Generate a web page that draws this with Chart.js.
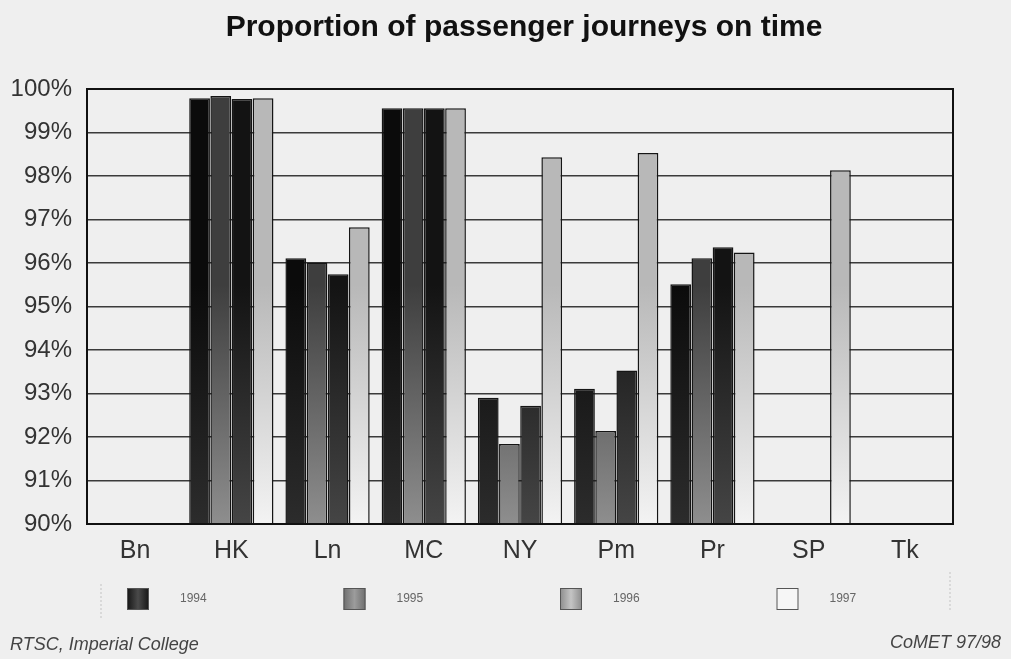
<!DOCTYPE html>
<html>
<head>
<meta charset="utf-8">
<title>Proportion of passenger journeys on time</title>
<script src="https://cdn.jsdelivr.net/npm/chart.js@4/dist/chart.umd.min.js"></script>
<style>
  html, body { margin: 0; padding: 0; background: #efefef; }
  canvas { display: block; }
</style>
</head>
<body>
<canvas id="chart" width="1011" height="659"></canvas>
<script>
// Metro systems and the share of journeys that ran on time (%), per year
const cities = ['Bn', 'HK', 'Ln', 'MC', 'NY', 'Pm', 'Pr', 'SP', 'Tk'];
const years = ['1994', '1995', '1996', '1997'];
const onTime1994 = [null, 99.79, 96.11, 99.56, 92.90, 93.11, 95.51, null, null];
const onTime1995 = [null, 99.84, 96.01, 99.56, 91.84, 92.14, 96.11, null, null];
const onTime1996 = [null, 99.77, 95.74, 99.56, 92.72, 93.53, 96.36, null, null];
const onTime1997 = [null, 99.79, 96.82, 99.56, 98.43, 98.53, 96.24, 98.13, null];
const axisMin = 90;
const axisMax = 100;
const footerLeft = 'RTSC, Imperial College';
const footerRight = 'CoMET 97/98';

// Fill shades for each year: [top of plot, bottom of plot]
const barShades = [
  ['#0b0b0b', '#2c2c2c'],
  ['#3e3e3e', '#8e8e8e'],
  ['#131313', '#454545'],
  ['#b8b8b8', '#f3f3f3']
];
// Legend swatch fills: [edge, centre]
const swatchShades = [
  ['#151515', '#4a4a4a'],
  ['#6e6e6e', '#9c9c9c'],
  ['#8c8c8c', '#c4c4c4'],
  ['#f6f6f6', '#f6f6f6']
];

function shadeFor(i) {
  return (context) => {
    const area = context.chart.chartArea;
    if (!area) return barShades[i][0];
    const g = context.chart.ctx.createLinearGradient(0, area.top, 0, area.bottom);
    g.addColorStop(0, barShades[i][0]);
    g.addColorStop(0.45, barShades[i][0]);
    g.addColorStop(1, barShades[i][1]);
    return g;
  };
}

const seriesValues = [onTime1994, onTime1995, onTime1996, onTime1997];

const paperBackground = {
  id: 'paperBackground',
  beforeDraw(chart) {
    const { ctx, width, height } = chart;
    ctx.save();
    ctx.fillStyle = '#efefef';
    ctx.fillRect(0, 0, width, height);
    ctx.restore();
  }
};

// centre the heading over the page body rather than the full canvas
const headingOffset = {
  id: 'headingOffset',
  afterLayout(chart) {
    if (chart.titleBlock) chart.titleBlock.left += 37;
  }
};

const plotFrame = {
  id: 'plotFrame',
  afterDatasetsDraw(chart) {
    const { ctx, chartArea: a } = chart;
    ctx.save();
    ctx.strokeStyle = '#111';
    ctx.lineWidth = 2;
    ctx.strokeRect(a.left, a.top, a.right - a.left, a.bottom - a.top);
    ctx.restore();
  }
};

const yearKey = {
  id: 'yearKey',
  afterDraw(chart) {
    const { ctx, chartArea: a } = chart;
    const step = (a.right - a.left) / years.length;
    const boxW = 22, boxH = 22, boxTop = 588;
    ctx.save();
    // faint side rules of the key panel
    ctx.strokeStyle = 'rgba(0,0,0,0.18)';
    ctx.lineWidth = 1;
    ctx.setLineDash([2, 2]);
    ctx.beginPath();
    ctx.moveTo(a.left + 14, 584); ctx.lineTo(a.left + 14, 618);
    ctx.moveTo(a.right - 3, 572); ctx.lineTo(a.right - 3, 612);
    ctx.stroke();
    ctx.setLineDash([]);

    chart.data.datasets.forEach((ds, i) => {
      const x = a.left + 40 + i * step;
      const g = ctx.createLinearGradient(x, 0, x + boxW, 0);
      g.addColorStop(0, swatchShades[i][0]);
      g.addColorStop(0.5, swatchShades[i][1]);
      g.addColorStop(1, swatchShades[i][0]);
      ctx.fillStyle = g;
      ctx.fillRect(x, boxTop, boxW, boxH);
      ctx.strokeStyle = '#555';
      ctx.lineWidth = 1;
      ctx.strokeRect(x + 0.5, boxTop + 0.5, boxW - 1, boxH - 1);
      ctx.fillStyle = '#666';
      ctx.font = '12px "Liberation Sans", Arial, sans-serif';
      ctx.textAlign = 'left';
      ctx.textBaseline = 'middle';
      ctx.fillText(ds.label, x + 53, boxTop + boxH / 2);
    });

    ctx.fillStyle = '#444';
    ctx.font = 'italic 18px "Liberation Sans", Arial, sans-serif';
    ctx.textBaseline = 'middle';
    ctx.textAlign = 'left';
    ctx.fillText(footerLeft, 10, 645);
    ctx.textAlign = 'right';
    ctx.fillText(footerRight, 1001, 643);
    ctx.restore();
  }
};

new Chart(document.getElementById('chart'), {
  type: 'bar',
  data: {
    labels: cities,
    datasets: years.map((y, i) => ({
      label: y,
      data: seriesValues[i],
      backgroundColor: shadeFor(i),
      borderColor: '#151515',
      borderWidth: 1.5,
      categoryPercentage: 0.88,
      barPercentage: 0.98
    }))
  },
  options: {
    responsive: false,
    animation: false,
    devicePixelRatio: 1,
    layout: { padding: { left: 10, right: 10, top: 0, bottom: 89 } },
    plugins: {
      legend: { display: false },
      tooltip: { enabled: false },
      title: {
        display: true,
        text: 'Proportion of passenger journeys on time',
        color: '#111',
        font: { family: '"Liberation Sans", Arial, sans-serif', size: 30, weight: 'bold' },
        padding: { top: 10, bottom: 43 }
      }
    },
    scales: {
      x: {
        grid: { display: false },
        border: { display: true, color: '#111', width: 2 },
        ticks: {
          color: '#333',
          padding: 4,
          font: { family: '"Liberation Sans", Arial, sans-serif', size: 25 }
        }
      },
      y: {
        min: axisMin,
        max: axisMax,
        afterFit: (scale) => { scale.width = 77; },
        grid: { color: '#3a3a3a', lineWidth: 1.5, drawTicks: false },
        border: { display: true, color: '#111', width: 2 },
        ticks: {
          stepSize: 1,
          color: '#333',
          padding: 15,
          font: { family: '"Liberation Sans", Arial, sans-serif', size: 24 },
          callback: (v) => v + '%'
        }
      },
      yRight: {
        position: 'right',
        min: axisMin,
        max: axisMax,
        afterFit: (scale) => { scale.width = 48; },
        grid: { display: false, drawTicks: false },
        border: { display: false },
        ticks: { display: false }
      }
    }
  },
  plugins: [paperBackground, headingOffset, plotFrame, yearKey]
});
</script>
</body>
</html>
